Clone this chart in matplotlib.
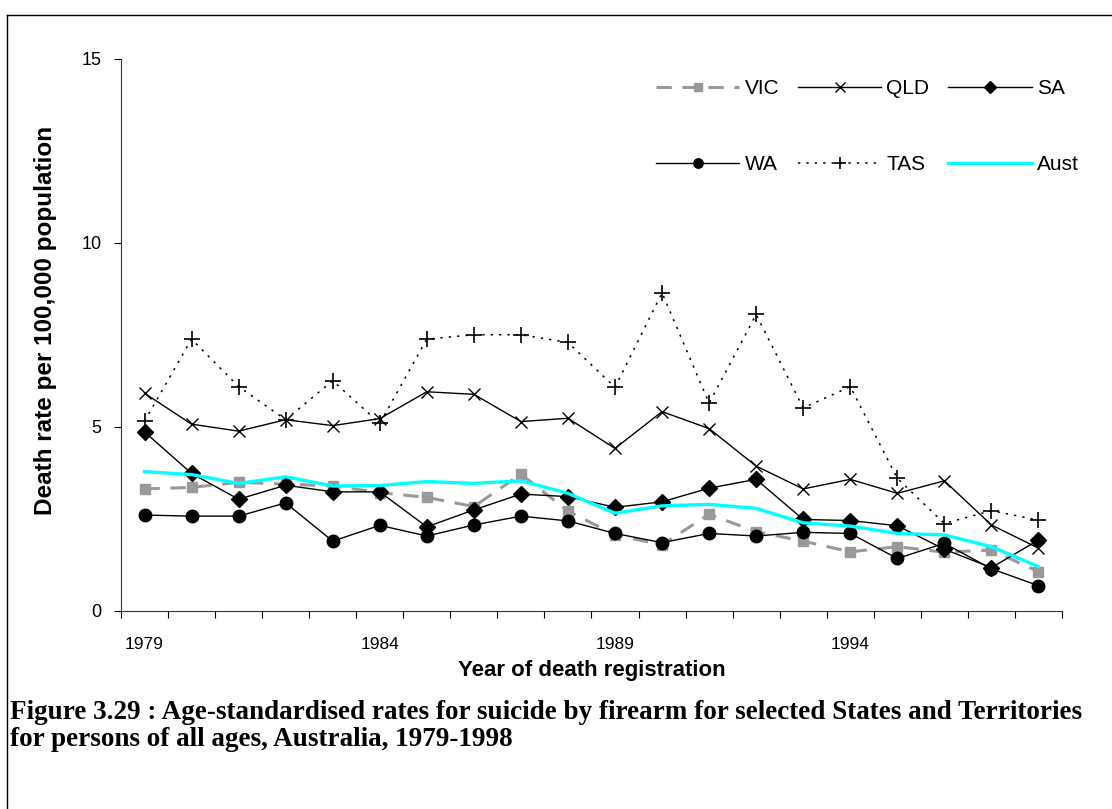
import matplotlib
matplotlib.use("Agg")
import matplotlib.pyplot as plt
from matplotlib.lines import Line2D

# Age-standardised rates, suicide by firearm, 1979-1998
years = list(range(1979, 1999))
vic = [3.31, 3.35, 3.49, 3.44, 3.39, 3.21, 3.08, 2.83, 3.71, 2.71,
       2.06, 1.79, 2.62, 2.15, 1.89, 1.60, 1.74, 1.59, 1.65, 1.06]
qld = [5.91, 5.07, 4.88, 5.19, 5.03, 5.22, 5.95, 5.88, 5.14, 5.23,
       4.41, 5.41, 4.95, 3.93, 3.31, 3.57, 3.19, 3.53, 2.33, 1.70]
sa = [4.86, 3.73, 3.03, 3.41, 3.23, 3.23, 2.28, 2.74, 3.17, 3.10,
      2.81, 2.96, 3.33, 3.57, 2.48, 2.45, 2.31, 1.67, 1.17, 1.92]
wa = [2.60, 2.57, 2.57, 2.93, 1.89, 2.32, 2.03, 2.33, 2.57, 2.44,
      2.10, 1.85, 2.10, 2.03, 2.13, 2.10, 1.42, 1.83, 1.14, 0.68]
tas = [5.15, 7.38, 6.09, 5.19, 6.25, 5.09, 7.38, 7.50, 7.50, 7.29,
       6.07, 8.64, 5.64, 8.05, 5.51, 6.09, 3.60, 2.37, 2.72, 2.46]
aust = [3.78, 3.70, 3.46, 3.64, 3.39, 3.40, 3.51, 3.46, 3.53, 3.19,
        2.65, 2.85, 2.89, 2.78, 2.39, 2.30, 2.10, 2.06, 1.74, 1.20]
label_years = [1979, 1984, 1989, 1994]

plt.rcParams["font.family"] = ["Liberation Sans", "DejaVu Sans"]

fig = plt.figure(figsize=(11.12, 8.09), dpi=100)
ax = fig.add_axes([0.1088, 0.2451, 0.955 - 0.1088, 0.9274 - 0.2451])

x = list(range(len(years)))
h_vic, = ax.plot(x, vic, color="#999999", lw=2.2, ls=(0, (5, 3.5)),
                 marker="s", ms=7, label="VIC")
h_qld, = ax.plot(x, qld, color="black", lw=1.0, marker="x", ms=9, mew=1.0,
                 label="QLD")
h_sa, = ax.plot(x, sa, color="black", lw=1.0, marker="D", ms=8, label="SA")
h_wa, = ax.plot(x, wa, color="black", lw=1.0, marker="o", ms=9, label="WA")
h_tas, = ax.plot(x, tas, color="black", lw=1.1, ls=(0, (1.5, 4)), marker="+",
                 ms=11, mew=1.2, label="TAS")
h_aust, = ax.plot(x, aust, color="#00ffff", lw=2.4, label="Aust")

ax.set_xlim(-0.5, len(years) - 0.5)
ax.set_ylim(0, 15)
ax.set_yticks([0, 5, 10, 15])
ax.tick_params(axis="y", direction="out", length=5, labelsize=13, pad=9)

# category boundaries as ticks, year labels between them
ax.set_xticks([i - 0.5 for i in range(len(years) + 1)])
ax.set_xticklabels([])
ax.tick_params(axis="x", which="major", direction="out", length=5)
ax.set_xticks([years.index(y) for y in label_years], minor=True)
ax.set_xticklabels([str(y) for y in label_years], minor=True)
ax.tick_params(axis="x", which="minor", length=0, labelsize=12.5, pad=19)

for s in ["top", "right"]:
    ax.spines[s].set_visible(False)
ax.spines["left"].set_color("#333333")
ax.spines["bottom"].set_color("#333333")

ax.set_xlabel("Year of death registration", fontsize=16, fontweight="bold",
              labelpad=6)
ax.set_ylabel("Death rate per 100,000 population", fontsize=17.5,
              fontweight="bold")
ax.yaxis.set_label_coords(-0.068, 0.525)

# legend filled row by row: VIC QLD SA / WA TAS Aust
handles = [h_vic, h_wa, h_qld, h_tas, h_sa, h_aust]
ax.legend(handles=handles, labels=[h.get_label() for h in handles],
          loc="upper left", bbox_to_anchor=(656 / 1112, 1 - 79 / 809),
          bbox_transform=fig.transFigure, ncol=3, frameon=False,
          fontsize=15, handlelength=4.0, handletextpad=0.25,
          columnspacing=0.9, labelspacing=2.75, borderpad=0,
          borderaxespad=0, markerscale=0.75)

# border lines of the original frame (left and top)
fig.add_artist(Line2D([7 / 1112, 7 / 1112], [0, 1 - 15 / 809],
                      color="black", lw=1.0, transform=fig.transFigure))
fig.add_artist(Line2D([7 / 1112, 1], [1 - 15 / 809, 1 - 15 / 809],
                      color="black", lw=1.0, transform=fig.transFigure))

fig.text(10 / 1112, 1 - 700 / 809,
         "Figure 3.29 : Age-standardised rates for suicide by firearm for selected States and Territories\n"
         "for persons of all ages, Australia, 1979-1998",
         family=["Liberation Serif"], fontweight="bold", fontsize=19.5,
         ha="left", va="top", linespacing=1.12)

fig.savefig("out.png", dpi=100)
